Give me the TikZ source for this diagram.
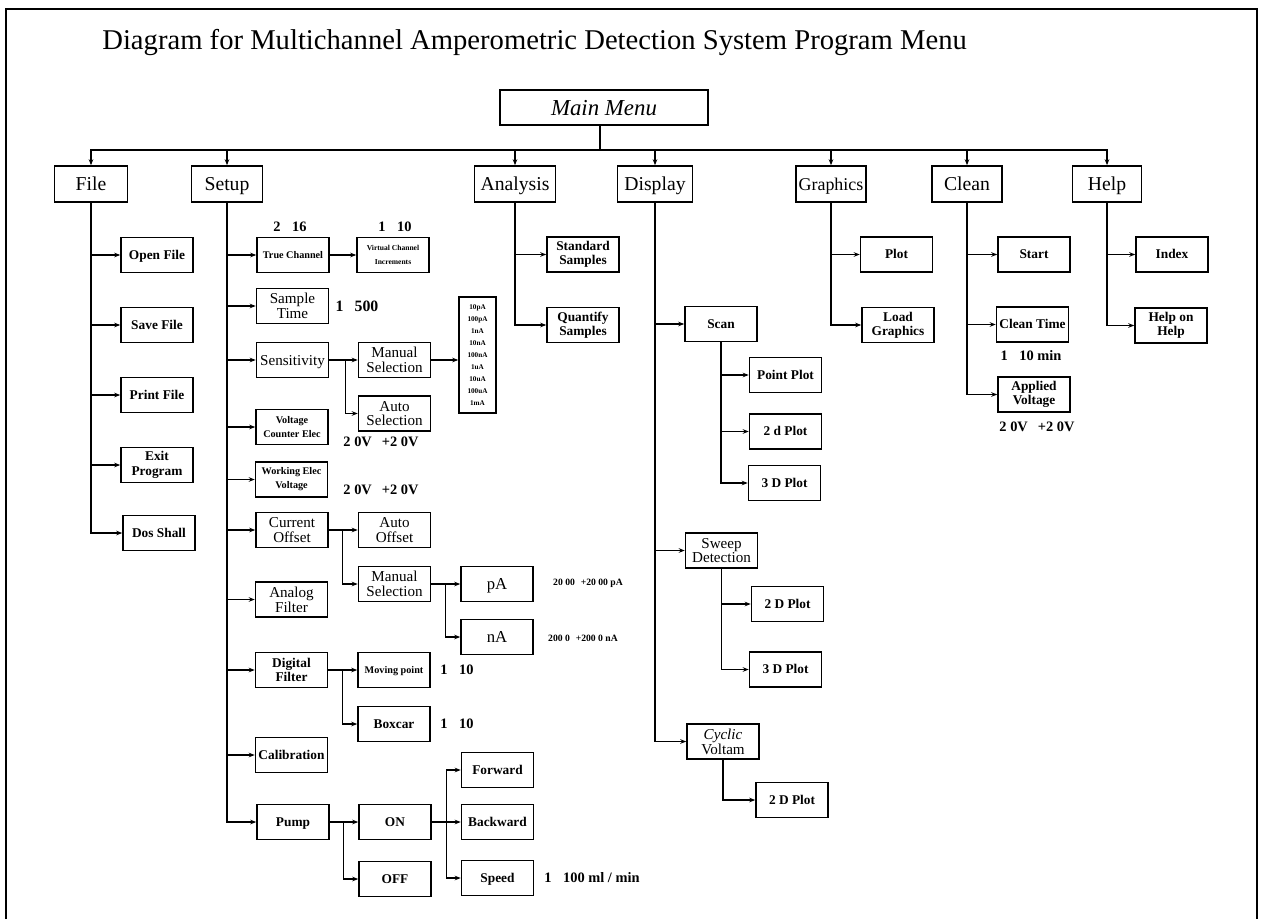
\documentclass[tikz,border=0pt]{standalone}
\usepackage{fontspec}
\setmainfont{Liberation Serif}
\usetikzlibrary{arrows.meta}
\newlength{\unitpx}\setlength{\unitpx}{0.02cm}
\begin{document}
\begin{tikzpicture}[x=0.02cm,y=-0.02cm,
  frame/.style={line width=1.2pt},
  conn/.style={line width=0.7pt},
  arr/.style={conn,-{Stealth[length=3.4pt,width=2.6pt]}},
  topbox/.style={draw,line width=0.9pt,minimum height=36\unitpx,inner sep=0pt,
    text height=8.3pt,text depth=0.9pt,font=\fontsize{11.2}{12}\selectfont},
  subbox/.style={draw,line width=0.9pt,minimum width=72\unitpx,minimum height=35\unitpx,
    inner sep=0pt,align=center,font=\fontsize{7.6}{8.2}\selectfont\bfseries},
  onesub/.style={text height=5.6pt,text depth=0.6pt},
  litebox/.style={subbox,font=\fontsize{8.6}{8.4}\selectfont},
  onelite/.style={text height=6.4pt,text depth=0.7pt},
  smallbox/.style={subbox,font=\fontsize{5.8}{8}\selectfont\bfseries},
  onesmall/.style={text height=4.3pt,text depth=0.5pt},
  tinybox/.style={subbox,font=\fontsize{4.3}{8}\selectfont\bfseries},
  lab/.style={inner sep=0pt,font=\fontsize{8.2}{9}\selectfont\bfseries},
  tinylab/.style={inner sep=0pt,font=\fontsize{5.5}{6}\selectfont\bfseries}]
\useasboundingbox (0,0) rectangle (1263,919);

% outer frame
\draw[frame] (6,919) -- (6,9) -- (1257,9) -- (1257,919);

% heading
\node[anchor=base west,inner sep=0pt,font=\fontsize{16.3}{18}\selectfont] (title) at (102,50)
  {Diagram for Multichannel Amperometric Detection System Program Menu};

% main menu and top level
\node[draw,line width=0.9pt,minimum width=208\unitpx,minimum height=35\unitpx,inner sep=0pt,
  text height=9.6pt,text depth=1pt,
  font=\fontsize{13}{14}\selectfont\itshape] (mainmenu) at (604,107.5) {Main Menu};
\coordinate (bus) at (600,150);

\node[topbox,minimum width=73\unitpx] (file) at (91,184) {File};
\node[topbox,minimum width=71\unitpx] (setup) at (227,184) {Setup};
\node[topbox,minimum width=81\unitpx] (analysis) at (515,184) {Analysis};
\node[topbox,minimum width=75\unitpx] (display) at (655,184) {Display};
\node[topbox,minimum width=70\unitpx,font=\fontsize{10.2}{12}\selectfont] (graphics) at (831,184) {Graphics};
\node[topbox,minimum width=70\unitpx] (clean) at (967,184) {Clean};
\node[topbox,minimum width=69\unitpx] (help) at (1107,184) {Help};

\draw[conn] (mainmenu.south -| bus) -- (bus);
\foreach \t in {file,setup,analysis,display,graphics,clean,help}
  \draw[arr] (bus) -| (\t.north);

% File menu
\node[subbox,onesub] (open) at (157,255) {Open File};
\node[subbox,onesub] (save) at (157,325) {Save File};
\node[subbox,onesub] (print) at (157,395) {Print File};
\node[subbox] (exit) at (157,465) {Exit\\Program};
\node[subbox,onesub] (dos) at (159,533) {Dos Shall};
\foreach \c in {open,save,print,exit,dos}
  \draw[arr] (file.south) |- (\c.west);

% Setup menu
\node[smallbox,onesmall] (truech) at (293,255) {True Channel};
\node[tinybox] (virtch) at (393,255) {Virtual Channel\\Increments};
\node[litebox] (samptime) at (292.5,306) {Sample\\Time};
\node[litebox,onelite] (sens) at (292.5,360) {Sensitivity};
\node[litebox] (mansel) at (394.5,360) {Manual\\Selection};
\node[litebox] (autosel) at (394.5,413.5) {Auto\\Selection};
\node[draw,line width=0.9pt,minimum width=37\unitpx,minimum height=116\unitpx,inner sep=0pt,
  align=center,font=\fontsize{4.1}{6.8}\selectfont\bfseries] (senslist) at (477.5,355)
  {10pA\\100pA\\1nA\\10nA\\100nA\\1uA\\10uA\\100uA\\1mA};
\node[smallbox] (vce) at (292,427) {Voltage\\Counter Elec};
\node[smallbox] (wev) at (291.5,479.5) {Working Elec\\Voltage};
\node[litebox] (curoff) at (292,530) {Current\\Offset};
\node[litebox] (autooff) at (394.5,530) {Auto\\Offset};
\node[litebox] (mansel2) at (394.5,584) {Manual\\Selection};
\node[litebox,text height=7pt,text depth=0.8pt,font=\fontsize{9.5}{10}\selectfont] (pa) at (497,584) {pA};
\node[litebox,text height=7pt,text depth=0.8pt,font=\fontsize{9.5}{10}\selectfont] (na) at (497,637) {nA};
\node[litebox] (anfilt) at (291.5,599.5) {Analog\\Filter};
\node[subbox] (digfilt) at (291.5,670) {Digital\\Filter};
\node[smallbox,onesmall] (movpt) at (394,670) {Moving point};
\node[subbox,onesub] (boxcar) at (394,724) {Boxcar};
\node[subbox,onesub] (calib) at (291.5,755) {Calibration};
\node[subbox,onesub] (pump) at (293,822) {Pump};
\node[subbox,onesub] (pon) at (395,822) {ON};
\node[subbox,onesub] (poff) at (395,879) {OFF};
\node[subbox,onesub] (fwd) at (497.5,770) {Forward};
\node[subbox,onesub] (back) at (497.5,822) {Backward};
\node[subbox,onesub] (speed) at (497.5,878) {Speed};

\foreach \c in {truech,samptime,sens,vce,wev,curoff,anfilt,digfilt,calib,pump}
  \draw[arr] (setup.south) |- (\c.west);
\draw[arr] (truech.east) -- (virtch.west);
\draw[arr] (sens.east) -- (mansel.west);
\draw[arr] (sens.east) -- ++(16,0) |- (autosel.west);
\draw[arr] (mansel.east) -- (mansel.east -| senslist.west);
\draw[arr] (curoff.east) -- (autooff.west);
\draw[arr] (curoff.east) -- ++(14,0) |- (mansel2.west);
\draw[arr] (mansel2.east) -- (pa.west);
\draw[arr] (mansel2.east) -- ++(14,0) |- (na.west);
\draw[arr] (digfilt.east) -- (movpt.west);
\draw[arr] (digfilt.east) -- ++(14,0) |- (boxcar.west);
\draw[arr] (pump.east) -- (pon.west);
\draw[arr] (pump.east) -- ++(14,0) |- (poff.west);
\draw[arr] (pon.east) -- (back.west);
\draw[arr] (pon.east) -- ++(15,0) |- (fwd.west);
\draw[arr] (pon.east) -- ++(15,0) |- (speed.west);

% Setup value ranges
\node[lab] (rtc) at (290,227) {2\hspace{0.8em}16};
\node[lab] (rvc) at (395,227) {1\hspace{0.8em}10};
\node[lab,font=\fontsize{9}{10}\selectfont\bfseries] (rst) at (357,306) {1\hspace{0.7em}500};
\node[lab] (rvce) at (381,442) {2 0V\hspace{0.7em}+2 0V};
\node[lab] (rwev) at (381,490) {2 0V\hspace{0.7em}+2 0V};
\node[tinylab] (rpa) at (588,583) {20 00\hspace{0.6em}+20 00 pA};
\node[tinylab] (rna) at (583,638) {200 0\hspace{0.6em}+200 0 nA};
\node[lab] (rmp) at (457,670) {1\hspace{0.8em}10};
\node[lab] (rbx) at (457,724) {1\hspace{0.8em}10};
\node[lab] (rsp) at (592,878) {1\hspace{0.8em}100 ml / min};

% Analysis menu
\node[subbox] (stdsamp) at (583,254.5) {Standard\\Samples};
\node[subbox] (quant) at (583,325) {Quantify\\Samples};
\foreach \c in {stdsamp,quant}
  \draw[arr] (analysis.south) |- (\c.west);

% Display menu
\node[subbox,onesub] (scan) at (721,324) {Scan};
\node[subbox,onesub] (ptplot) at (785.5,375) {Point Plot};
\node[subbox,onesub] (scan2d) at (785.5,431.5) {2 d Plot};
\node[subbox,onesub] (scan3d) at (784.5,483) {3 D Plot};
\node[litebox] (sweep) at (721.5,550.5) {Sweep\\Detection};
\node[subbox,onesub] (sw2d) at (787.5,604) {2 D Plot};
\node[subbox,onesub] (sw3d) at (785.5,669.5) {3 D Plot};
\node[litebox] (cyclic) at (723,741.5) {\textit{Cyclic}\\Voltam};
\node[subbox,onesub] (cy2d) at (792,800) {2 D Plot};
\foreach \c in {scan,sweep,cyclic}
  \draw[arr] (display.south) |- (\c.west);
\foreach \c in {ptplot,scan2d,scan3d}
  \draw[arr] (scan.south) |- (\c.west);
\foreach \c in {sw2d,sw3d}
  \draw[arr] (sweep.south) |- (\c.west);
\draw[arr] (cyclic.south) |- (cy2d.west);

% Graphics menu
\node[subbox,onesub] (plot) at (896.5,254.5) {Plot};
\node[subbox] (loadg) at (898,325) {Load\\Graphics};
\foreach \c in {plot,loadg}
  \draw[arr] (graphics.south) |- (\c.west);

% Clean menu
\node[subbox,onesub] (start) at (1034,254.5) {Start};
\node[subbox,onesub] (cltime) at (1032.5,324.5) {Clean Time};
\node[subbox] (applv) at (1034,394.5) {Applied\\Voltage};
\foreach \c in {start,cltime,applv}
  \draw[arr] (clean.south) |- (\c.west);
\node[lab] (rct) at (1031,356) {1\hspace{0.8em}10 min};
\node[lab] (rav) at (1037,427) {2 0V\hspace{0.7em}+2 0V};

% Help menu
\node[subbox,onesub] (index) at (1172,254.5) {Index};
\node[subbox] (helpon) at (1171,325.5) {Help on\\Help};
\foreach \c in {index,helpon}
  \draw[arr] (help.south) |- (\c.west);
\end{tikzpicture}
\end{document}
